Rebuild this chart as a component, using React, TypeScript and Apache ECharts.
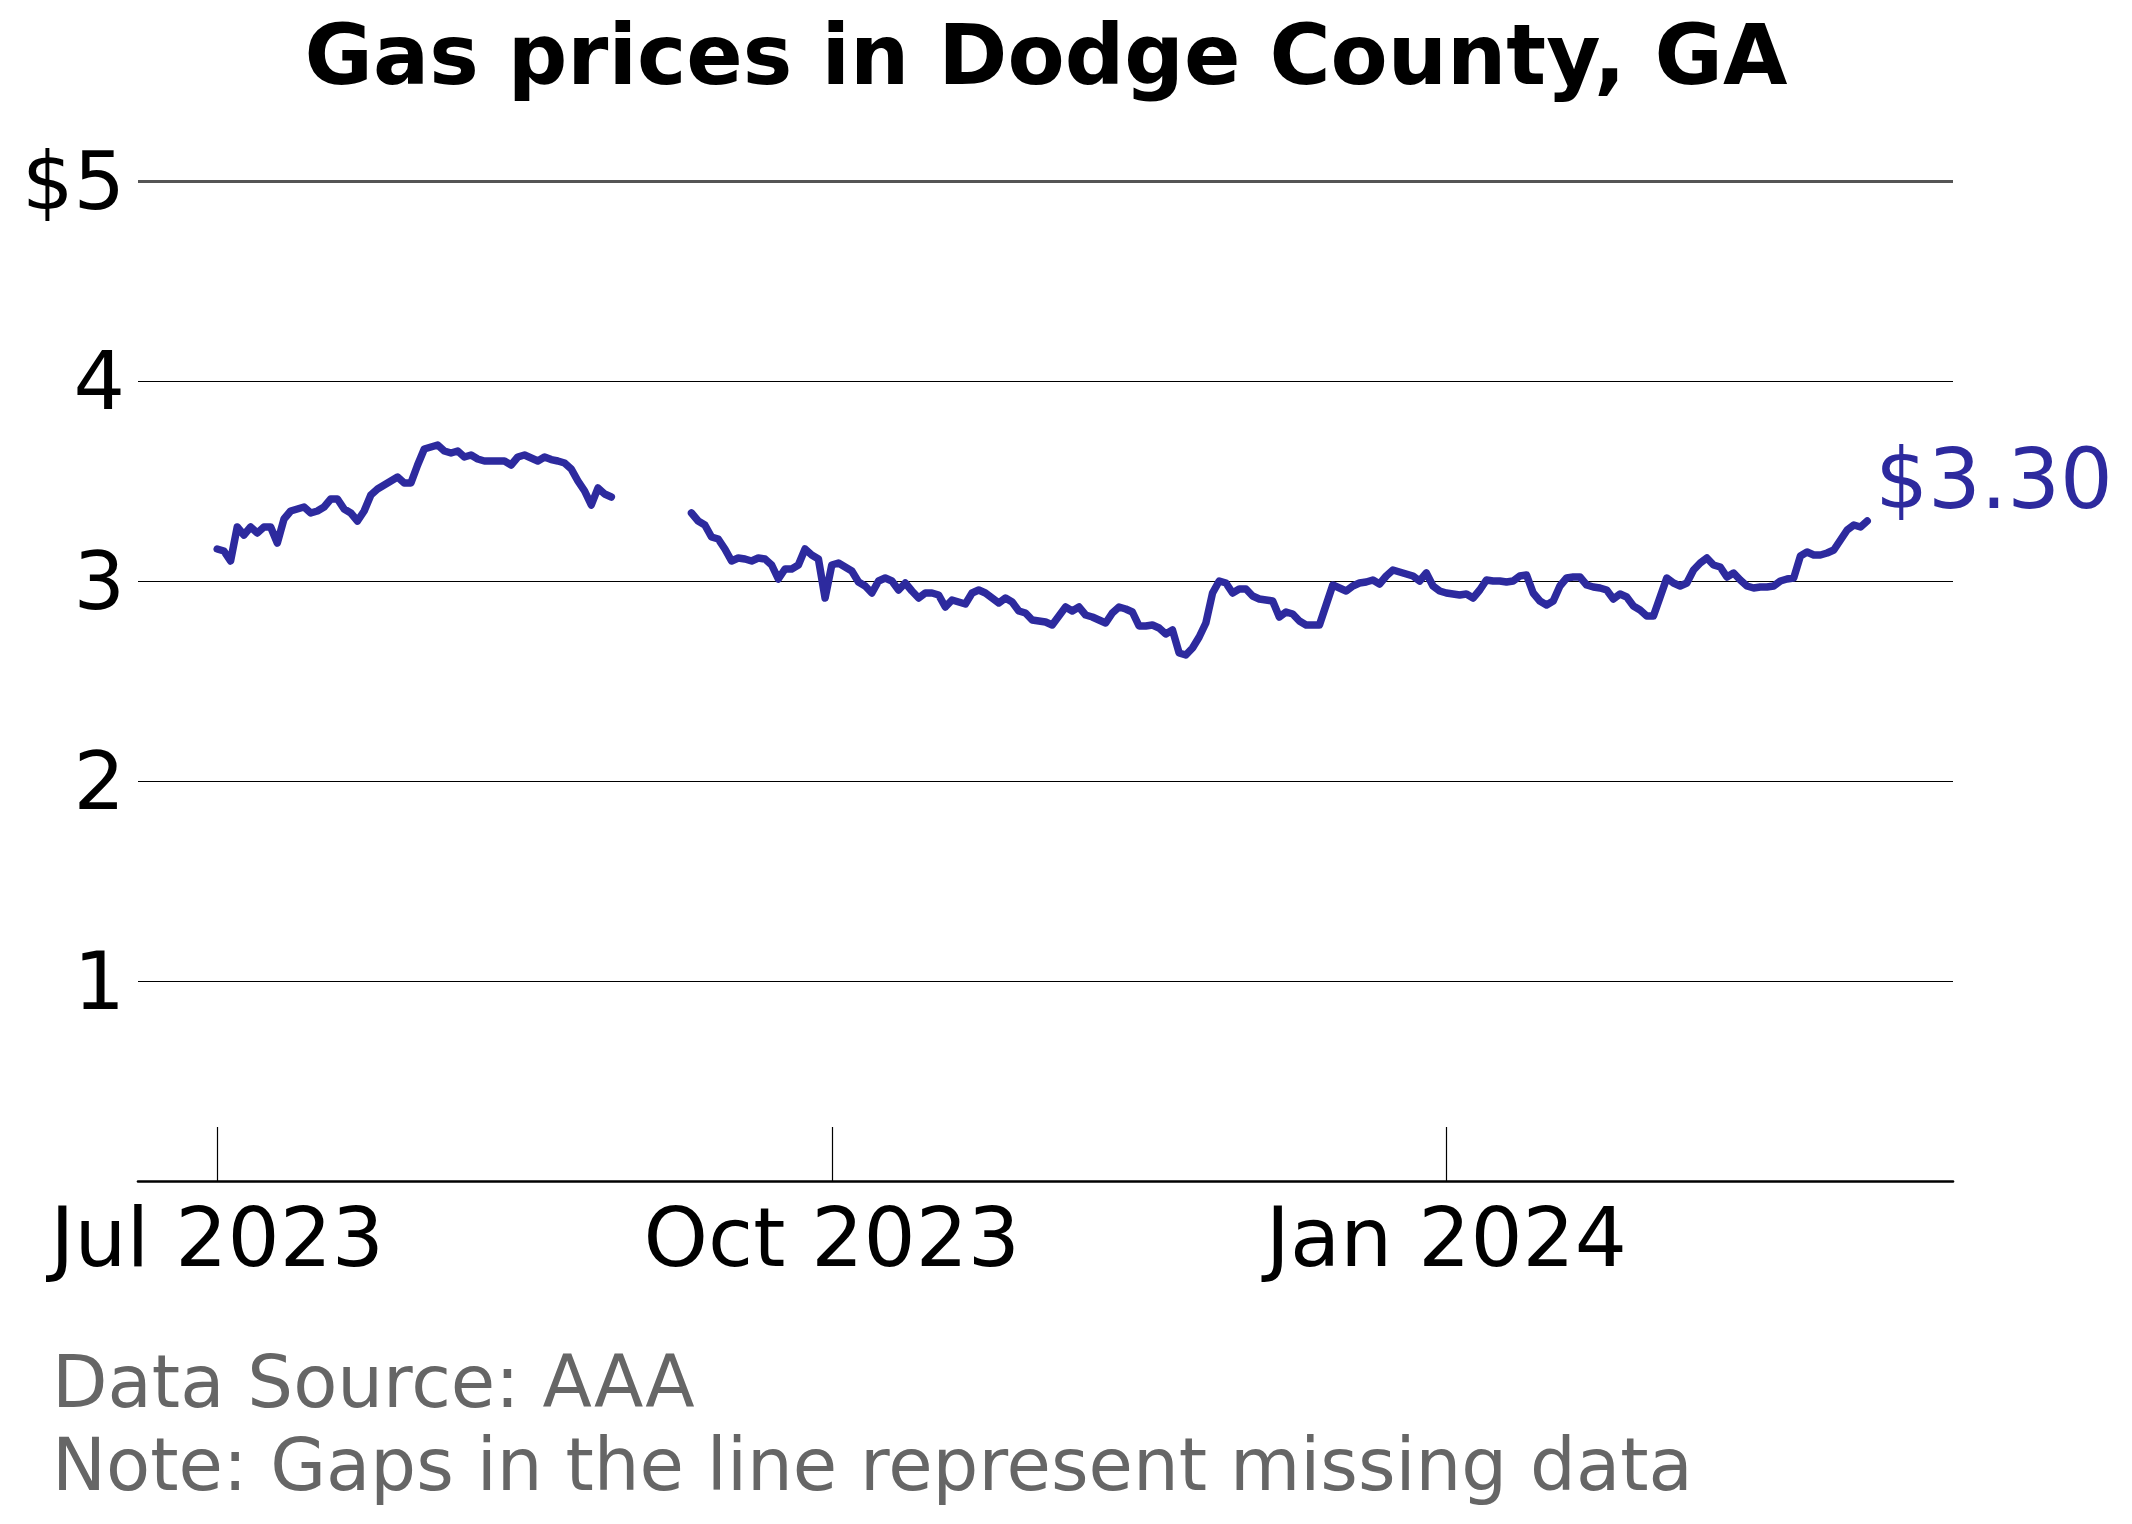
import React, { useEffect, useRef } from "react";
import * as echarts from "echarts";

// ---- data ----
const TITLE = "Gas prices in Dodge County, GA";
const FOOTNOTES = ["Data Source: AAA", "Note: Gaps in the line represent missing data"];
const MONTHS = ["Jan", "Feb", "Mar", "Apr", "May", "Jun", "Jul", "Aug", "Sep", "Oct", "Nov", "Dec"];
// first day of the daily series
const START_DATE: [number, number, number] = [2023, 6, 1];
// x-axis tick dates (year, monthIndex, day)
const X_TICKS: [number, number, number][] = [
  [2023, 6, 1],
  [2023, 9, 1],
  [2024, 0, 1],
];
const Y_TICKS = [0, 1, 2, 3, 4, 5];
const LAST_LABEL = "$3.30";

// daily average price, one value per day starting at START_DATE; null = missing
const prices: (number | null)[] = [
  // Jul 1 - Aug 29, 2023
  3.16, 3.15, 3.10, 3.27, 3.23, 3.27, 3.24, 3.27, 3.27, 3.19,
  3.31, 3.35, 3.36, 3.37, 3.34, 3.35, 3.37, 3.41, 3.41, 3.36,
  3.34, 3.30, 3.35, 3.43, 3.46, 3.48, 3.50, 3.52, 3.49, 3.49,
  3.58, 3.66, 3.67, 3.68, 3.65, 3.64, 3.65, 3.62, 3.63, 3.61,
  3.60, 3.60, 3.60, 3.60, 3.58, 3.62, 3.63, 3.615, 3.60, 3.62,
  3.607, 3.60, 3.59, 3.56, 3.50, 3.45, 3.38, 3.465, 3.435, 3.42,
  // missing
  null, null, null, null, null, null, null, null, null, null, null,
  // Sep 9, 2023 - Mar 4, 2024
  3.34, 3.30, 3.28, 3.22, 3.21, 3.16, 3.10, 3.115, 3.11, 3.10,
  3.115, 3.11, 3.08, 3.01, 3.06, 3.06, 3.08, 3.16, 3.13, 3.11,
  2.915, 3.08, 3.09, 3.07, 3.05, 2.995, 2.975, 2.94, 3.00, 3.015,
  3.00, 2.955, 2.99, 2.95, 2.915, 2.94, 2.94, 2.93, 2.87, 2.905,
  2.895, 2.885, 2.94, 2.955, 2.94, 2.915, 2.89, 2.915, 2.895, 2.85,
  2.84, 2.805, 2.80, 2.795, 2.78, 2.825, 2.87, 2.85, 2.87, 2.83,
  2.82, 2.805, 2.79, 2.84, 2.87, 2.86, 2.845, 2.775, 2.775, 2.78,
  2.765, 2.735, 2.755, 2.64, 2.63, 2.665, 2.72, 2.79, 2.94, 3.00,
  2.99, 2.94, 2.96, 2.96, 2.925, 2.91, 2.905, 2.90, 2.82, 2.845,
  2.835, 2.80, 2.78, 2.78, 2.78, 2.88, 2.98, 2.965, 2.95, 2.975,
  2.99, 2.995, 3.005, 2.985, 3.025, 3.055, 3.045, 3.035, 3.025, 3.00,
  3.04, 2.975, 2.95, 2.94, 2.935, 2.93, 2.935, 2.915, 2.955, 3.005,
  3.00, 3.00, 2.995, 3.00, 3.025, 3.03, 2.94, 2.90, 2.88, 2.90,
  2.975, 3.015, 3.02, 3.02, 2.98, 2.97, 2.965, 2.955, 2.91, 2.935,
  2.92, 2.875, 2.855, 2.825, 2.825, 2.92, 3.015, 2.99, 2.975, 2.99,
  3.055, 3.09, 3.115, 3.08, 3.07, 3.02, 3.04, 3.005, 2.975, 2.965,
  2.97, 2.97, 2.975, 3.00, 3.01, 3.015, 3.125, 3.145, 3.13, 3.13,
  3.14, 3.155, 3.205, 3.255, 3.28, 3.27, 3.30,
];

const FONT = "DejaVu Sans";
const LINE_COLOR = "#2d2a9e";
const W = 2132;
const H = 1524;

function dayTs(y: number, m: number, d: number) {
  return new Date(y, m, d).getTime();
}

export default function App() {
  const ref = useRef<HTMLDivElement>(null);

  useEffect(() => {
    if (!ref.current) return;
    const chart = echarts.init(ref.current, null, { renderer: "svg", width: W, height: H });

    const data = prices.map((v, i) => [dayTs(START_DATE[0], START_DATE[1], START_DATE[2] + i), v]);
    const firstTs = data[0][0] as number;
    const lastIdx = prices.length - 1;
    const lastTs = data[lastIdx][0] as number;
    const span = lastTs - firstTs;
    const xMin = firstTs - span * 0.048;
    const xMax = lastTs + span * 0.052;
    const tickTs = X_TICKS.map((t) => dayTs(t[0], t[1], t[2]));

    const option: any = {
      animation: false,
      backgroundColor: "#ffffff",
      textStyle: { fontFamily: FONT },
      grid: {
        left: 138,
        right: W - 1953,
        top: 181,
        bottom: H - 1181,
        containLabel: false,
        outerBoundsMode: "none",
      },
      xAxis: {
        type: "value",
        min: xMin,
        max: xMax,
        scale: true,
        axisLine: { show: true, lineStyle: { color: "#000", width: 2.6 } },
        axisTick: {
          show: true,
          inside: true,
          length: 54,
          customValues: tickTs,
          lineStyle: { color: "#000", width: 1.2 },
        },
        axisLabel: {
          show: true,
          customValues: tickTs,
          fontSize: 82,
          fontFamily: FONT,
          color: "#000",
          margin: 15,
          formatter: (v: number) => {
            const d = new Date(v);
            return MONTHS[d.getMonth()] + " " + d.getFullYear();
          },
        },
        splitLine: { show: false },
      },
      yAxis: {
        type: "value",
        min: Y_TICKS[0],
        max: Y_TICKS[Y_TICKS.length - 1],
        interval: 1,
        axisLine: { show: false },
        axisTick: { show: false },
        axisLabel: {
          fontSize: 81,
          fontFamily: FONT,
          color: "#000",
          margin: 13,
          formatter: (v: number) =>
            v === Y_TICKS[0] ? "" : v === Y_TICKS[Y_TICKS.length - 1] ? "$" + v : String(v),
        },
        splitLine: { show: true, lineStyle: { color: "#000", width: 1 } },
      },
      series: [
        {
          type: "line",
          data,
          showSymbol: false,
          connectNulls: false,
          lineStyle: { color: LINE_COLOR, width: 7.5, cap: "round", join: "round" },
          itemStyle: { color: LINE_COLOR },
          silent: true,
          z: 5,
          markLine: {
            silent: true,
            symbol: ["none", "none"],
            label: { show: false },
            lineStyle: { color: "#555", width: 3, type: "solid" },
            data: [{ yAxis: Y_TICKS[Y_TICKS.length - 1] }],
            z: 2,
          },
          markPoint: {
            silent: true,
            symbol: "circle",
            symbolSize: 0,
            data: [{ coord: [lastTs, prices[lastIdx]] }],
            label: {
              show: true,
              position: "right",
              distance: 0,
              offset: [8, -42],
              formatter: LAST_LABEL,
              fontSize: 83,
              fontFamily: FONT,
              color: LINE_COLOR,
            },
          },
        },
      ],
      graphic: [
        {
          type: "text",
          x: 1046,
          y: 55,
          style: {
            text: TITLE,
            font: `bold 83.3px "${FONT}"`,
            fill: "#000",
            textAlign: "center",
            textVerticalAlign: "middle",
          },
        },
        {
          type: "text",
          x: 52,
          y: 1382,
          style: {
            text: FOOTNOTES[0],
            font: `72.2px "${FONT}"`,
            fill: "#666666",
            textAlign: "left",
            textVerticalAlign: "middle",
          },
        },
        {
          type: "text",
          x: 52,
          y: 1465,
          style: {
            text: FOOTNOTES[1],
            font: `72.2px "${FONT}"`,
            fill: "#666666",
            textAlign: "left",
            textVerticalAlign: "middle",
          },
        },
      ],
    };

    chart.setOption(option);
    return () => chart.dispose();
  }, []);

  return (
    <div
      ref={ref}
      style={{ position: "absolute", left: 0, top: 0, width: W, height: H, background: "#fff" }}
    />
  );
}
